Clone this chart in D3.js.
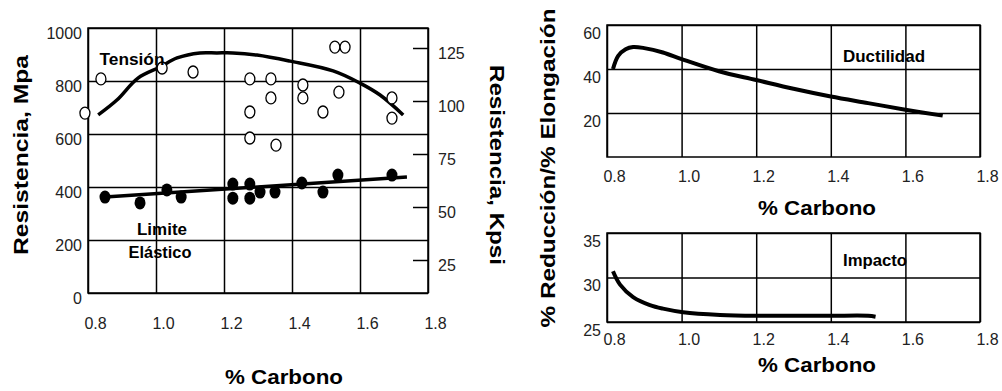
<!DOCTYPE html>
<html>
<head>
<meta charset="utf-8">
<script src="https://cdn.jsdelivr.net/npm/d3@7"></script>
<style>
  body { margin: 0; background: #fff; }
  svg { display: block; font-family: "Liberation Sans", Arial, sans-serif; }
  .tick text { font-size: 16px; fill: #222; }
  .lbl { font-weight: bold; fill: #000; }
</style>
</head>
<body>
<div id="chart"></div>
<script>
// ---- data ----
const carbonTicks = [0.8, 1.0, 1.2, 1.4, 1.6, 1.8];
const mpaTicks = [0, 200, 400, 600, 800, 1000];
const kpsiTicks = [25, 50, 75, 100, 125];
const ductTicks = [20, 40, 60];
const impTicks = [25, 30, 35];

// Tensión: curva y puntos abiertos
const tensionCurveC = [0.83, 0.885, 0.947, 1.012, 1.062, 1.129, 1.179, 1.226, 1.297, 1.394, 1.521, 1.6, 1.659, 1.727];
const tensionCurveMpa = [672, 728, 811, 853, 887, 906, 906, 906, 898, 875, 838, 792, 747, 672];
const tensionPtsC = [0.791, 0.838, 1.018, 1.109, 1.276, 1.276, 1.276, 1.338, 1.338, 1.353, 1.432, 1.432, 1.491, 1.526, 1.556, 1.538, 1.694, 1.694];
const tensionPtsMpa = [679, 808, 849, 834, 808, 683, 585, 808, 736, 558, 785, 736, 683, 928, 928, 758, 736, 660];

// Límite elástico: recta y puntos llenos
const yieldLineC = [0.85, 1.738];
const yieldLineMpa = [362, 438];
const yieldPtsC = [0.85, 0.953, 1.032, 1.074, 1.226, 1.226, 1.276, 1.276, 1.306, 1.35, 1.429, 1.491, 1.535, 1.694];
const yieldPtsMpa = [362, 340, 389, 362, 411, 358, 411, 358, 381, 381, 415, 381, 445, 445];

// Ductilidad
const ductC = [0.816, 0.83, 0.85, 0.87, 0.9, 0.95, 1.0, 1.1, 1.2, 1.3, 1.4, 1.5, 1.6, 1.7];
const ductV = [40, 46, 49, 50, 49.5, 47.5, 44.5, 39, 35, 31, 27.5, 24.5, 21.5, 18.8];

// Impacto
const impC = [0.816, 0.835, 0.87, 0.915, 0.95, 1.004, 1.103, 1.2, 1.3, 1.4, 1.5, 1.52];
const impV = [30.7, 29.2, 27.8, 26.9, 26.5, 26.1, 25.8, 25.7, 25.7, 25.7, 25.7, 25.6];

const svg = d3.select('#chart').append('svg').attr('width', 1002).attr('height', 391);
const fmt1 = d3.format('.1f');
const fmt0 = d3.format('d');

// draws box + grid + tick labels, returns scales
const panel = (x0, x1, y0, y1, yDomain, yTicks, xPad, yShift) => {
  const x = d3.scaleLinear().domain([0.8, 1.8]).range([x0, x1]);
  const y = d3.scaleLinear().domain(yDomain).range([y1, y0]);
  const g = svg.append('g');

  const xa = g.append('g')
    .attr('transform', 'translate(0,' + y1 + ')')
    .call(d3.axisBottom(x).tickValues(carbonTicks).tickFormat(fmt1).tickSize(-(y1 - y0)).tickPadding(xPad));
  xa.select('.domain').remove();
  xa.selectAll('line').attr('stroke', '#000').attr('stroke-width', 1.5);
  xa.selectAll('text').attr('dx', 7);

  const ya = g.append('g')
    .attr('transform', 'translate(' + x0 + ',0)')
    .call(d3.axisLeft(y).tickValues(yTicks).tickFormat(fmt0).tickSize(-(x1 - x0)).tickPadding(6));
  ya.select('.domain').remove();
  ya.selectAll('line').attr('stroke', '#000').attr('stroke-width', 1.5);
  ya.selectAll('text').attr('y', yShift);

  g.append('rect')
    .attr('x', x0).attr('y', y0)
    .attr('width', x1 - x0).attr('height', y1 - y0)
    .attr('fill', 'none').attr('stroke', '#000').attr('stroke-width', 1.5);
  return { x, y, g };
};

const label = (txt, x, y, size, len, rot) => {
  const t = svg.append('text')
    .attr('class', 'lbl')
    .attr('text-anchor', 'middle')
    .attr('font-size', size)
    .attr('textLength', len)
    .attr('lengthAdjust', 'spacingAndGlyphs')
    .attr('transform', 'translate(' + x + ',' + y + ')' + (rot ? ' rotate(' + rot + ')' : ''))
    .text(txt);
  return t;
};

// ---- panel izquierdo ----
const L = panel(88, 428, 28, 293, [0, 1000], mpaTicks, 25, 5);

const kpsi = d3.scaleLinear().domain([0, 125]).range([313, 48]);
const ka = svg.append('g')
  .attr('transform', 'translate(428,0)')
  .call(d3.axisRight(kpsi).tickValues(kpsiTicks).tickSize(-15).tickPadding(10));
ka.select('.domain').remove();
ka.selectAll('line').attr('stroke', '#000').attr('stroke-width', 1.5);
ka.selectAll('text').attr('y', 5);

const lineL = d3.line().curve(d3.curveCatmullRom).x(d => L.x(d[0])).y(d => L.y(d[1]));
L.g.append('path')
  .attr('d', lineL(d3.zip(tensionCurveC, tensionCurveMpa)))
  .attr('fill', 'none').attr('stroke', '#000').attr('stroke-width', 3.5);
L.g.append('path')
  .attr('d', lineL(d3.zip(yieldLineC, yieldLineMpa)))
  .attr('fill', 'none').attr('stroke', '#000').attr('stroke-width', 3.5);

L.g.selectAll('.open')
  .data(d3.zip(tensionPtsC, tensionPtsMpa))
  .enter().append('ellipse')
  .attr('cx', d => L.x(d[0])).attr('cy', d => L.y(d[1]))
  .attr('rx', 5).attr('ry', 6)
  .attr('fill', '#fff').attr('stroke', '#000').attr('stroke-width', 1.3);

L.g.selectAll('.filled')
  .data(d3.zip(yieldPtsC, yieldPtsMpa))
  .enter().append('ellipse')
  .attr('cx', d => L.x(d[0])).attr('cy', d => L.y(d[1]))
  .attr('rx', 5.5).attr('ry', 6.5)
  .attr('fill', '#000');

label('Tensión', 132, 65, 16, 65);
label('Limite', 162, 235, 16, 50);
label('Elástico', 160, 258, 16, 63);
label('Resistencia, Mpa', 28, 155, 20, 200, -90);
label('Resistencia, Kpsi', 490, 165, 20, 200, 90);
label('% Carbono', 284, 384, 20, 118);

// ---- panel derecho superior ----
const D = panel(607, 980, 25, 157, [0, 60], ductTicks, 14, 8);
const lineD = d3.line().curve(d3.curveCatmullRom).x(d => D.x(d[0])).y(d => D.y(d[1]));
D.g.append('path')
  .attr('d', lineD(d3.zip(ductC, ductV)))
  .attr('fill', 'none').attr('stroke', '#000').attr('stroke-width', 4);
label('Ductilidad', 884, 62, 16, 82);
label('% Carbono', 817, 215, 20, 118);

// ---- panel derecho inferior ----
const I = panel(607, 980, 233, 322, [25, 35], impTicks, 12, 8);
const lineI = d3.line().curve(d3.curveCatmullRom).x(d => I.x(d[0])).y(d => I.y(d[1]));
I.g.append('path')
  .attr('d', lineI(d3.zip(impC, impV)))
  .attr('fill', 'none').attr('stroke', '#000').attr('stroke-width', 4);
label('Impacto', 875, 266, 16, 64);
label('% Carbono', 817, 372, 20, 118);

label('% Reducción/% Elongación', 555, 168, 20, 319, -90);
</script>
</body>
</html>
